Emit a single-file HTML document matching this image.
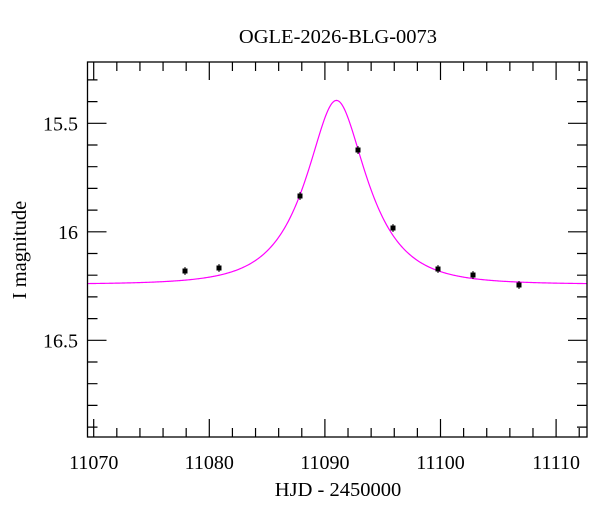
<!DOCTYPE html>
<html><head><meta charset="utf-8"><style>
html,body{margin:0;padding:0;background:#fff;}
svg{display:block;font-family:"Liberation Serif",serif;}
</style></head><body>
<svg id="s" width="600" height="512" xmlns="http://www.w3.org/2000/svg">
<rect width="600" height="512" fill="#fff"/>
<text x="338" y="43" font-size="20.5" text-anchor="middle">OGLE-2026-BLG-0073</text>
<text x="338" y="496" font-size="20.5" text-anchor="middle">HJD - 2450000</text>
<text transform="translate(26,250) rotate(-90)" font-size="20.5" text-anchor="middle">I magnitude</text>
<g id="ax" stroke="#000" stroke-width="1.2" fill="none"></g>
<g id="lab" font-size="20"></g>
<path id="curve" fill="none" stroke="#ff00ff" stroke-width="1.2"/>
<g id="pts"></g>
<rect x="87.5" y="62" width="499.5" height="375" fill="none" stroke="#000" stroke-width="1.3"/>
</svg>
<script>
var L=87.5,R=587,T=62,B=437;
function X(t){return 93.7+(t-11070)*11.56;}
function Y(m){return 123.3+(m-15.5)*217;}
var ax=document.getElementById('ax'),lab=document.getElementById('lab'),ns="http://www.w3.org/2000/svg";
var d="";
for(var t=11070;t<=11112;t+=2){var x=X(t),len=(t%10==0)?18:9;d+="M"+x+" "+B+"v"+(-len)+"M"+x+" "+T+"v"+len;}
for(var i=0;i<=17;i++){var m=15.3+i*0.1;var y=Y(m);if(y<T||y>B)continue;var maj=Math.abs(m*2-Math.round(m*2))<1e-6;var len=maj?19:10;d+="M"+L+" "+y+"h"+len+"M"+R+" "+y+"h"+(-len);}
var p=document.createElementNS(ns,'path');p.setAttribute('d',d);ax.appendChild(p);
[11070,11080,11090,11100,11110].forEach(function(t){var e=document.createElementNS(ns,'text');e.setAttribute('x',X(t));e.setAttribute('y',469);e.setAttribute('text-anchor','middle');e.textContent=t;lab.appendChild(e);});
[["15.5",15.5],["16",16],["16.5",16.5]].forEach(function(a){var e=document.createElementNS(ns,'text');e.setAttribute('x',78);e.setAttribute('y',Y(a[1])+7);e.setAttribute('text-anchor','end');e.textContent=a[0];lab.appendChild(e);});
var c="";
for(var px=L;px<=R;px+=1){var t=11070+(px-93.7)/11.56;var tau=(t-11091)/4.5,u2=0.25+tau*tau,u=Math.sqrt(u2);var A=(u2+2)/(u*Math.sqrt(u2+4));var m=16.242-2.5*Math.log10(A);c+=(c?"L":"M")+px.toFixed(1)+" "+Y(m).toFixed(2);}
document.getElementById('curve').setAttribute('d',c);
var pts=[[185,271],[219,268],[300,196],[358,150],[393,228],[438,269],[473,275],[519,285]],g=document.getElementById('pts'),s="";
pts.forEach(function(q){s+='<rect x="'+(q[0]-2.5)+'" y="'+(q[1]-2.5)+'" width="5" height="5" fill="#000"/><path d="M'+q[0]+' '+(q[1]-4)+'v8" stroke="#000"/>';});
g.innerHTML=s;
</script>
</body></html>
